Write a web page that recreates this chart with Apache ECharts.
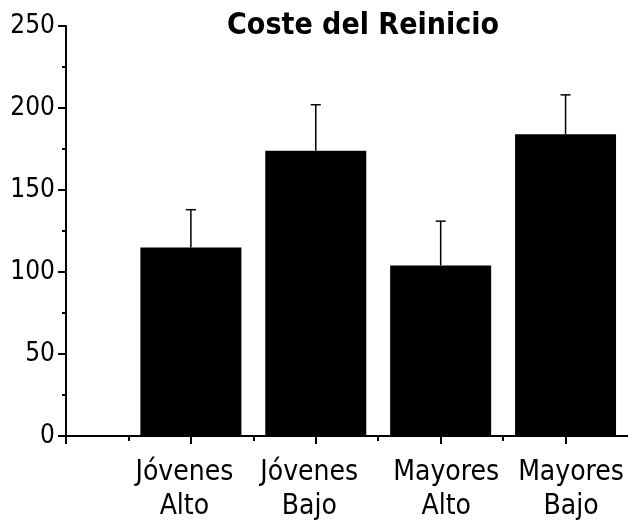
<!DOCTYPE html>
<html>
<head>
<meta charset="utf-8">
<script src="https://cdn.jsdelivr.net/npm/echarts@6/dist/echarts.min.js"></script>
<style>html,body{margin:0;padding:0;background:#fff}#c{width:628px;height:525px}</style>
</head>
<body>
<div id="c"></div>
<script>
var categories = ['Jóvenes\nAlto', 'Jóvenes\nBajo', 'Mayores\nAlto', 'Mayores\nBajo'];
var means = [115, 174, 104, 184];
var errUpper = [138, 202, 131, 208];
var yTicks = [0, 50, 100, 150, 200, 250];
var titleText = 'Coste del Reinicio';

var FONT = '"DejaVu Sans Condensed", "DejaVu Sans", sans-serif';
var labelStyleKeys = ['l', 'l', 'r', 'r'];
var chart = echarts.init(document.getElementById('c'), null, {renderer: 'canvas'});

var barData = means.map(function (v, i) { return [i + 1, v]; });
var errData = means.map(function (v, i) { return [i + 1, v, errUpper[i]]; });
var catPositions = categories.map(function (c, i) { return i + 1; });

chart.setOption({
  animation: false,
  backgroundColor: '#fff',
  title: {
    text: titleText,
    left: 358,
    textAlign: 'center',
    top: 6,
    textStyle: {fontFamily: FONT, fontSize: 30, fontWeight: 'bold', color: '#000'}
  },
  grid: {left: 66, right: 0, top: 26, bottom: 89, containLabel: false},
  xAxis: {
    type: 'value',
    min: 0,
    max: 4.5,
    interval: 1,
    splitLine: {show: false},
    axisLine: {show: true, onZero: false, lineStyle: {color: '#000', width: 2}},
    axisTick: {show: true, length: 8, customValues: [0].concat(catPositions), lineStyle: {color: '#000', width: 2}},
    minorTick: {show: true, splitNumber: 2, length: 5, lineStyle: {color: '#000', width: 2}},
    minorSplitLine: {show: false},
    axisLabel: {
      show: true,
      margin: 20,
      fontFamily: FONT,
      fontSize: 28,
      lineHeight: 34,
      color: '#000',
      customValues: catPositions,
      rich: {
        l: {fontFamily: FONT, fontSize: 28, lineHeight: 34, color: '#000', padding: [0, 13, 0, 0]},
        r: {fontFamily: FONT, fontSize: 28, lineHeight: 34, color: '#000', padding: [0, 0, 0, 11]}
      },
      formatter: function (v) {
        var i = Math.round(v) - 1;
        if (Math.abs(v - Math.round(v)) > 1e-6 || i < 0 || i >= categories.length) return '';
        var k = labelStyleKeys[i];
        return categories[i].split('\n').map(function (s) { return '{' + k + '|' + s + '}'; }).join('\n');
      }
    }
  },
  yAxis: {
    type: 'value',
    min: yTicks[0],
    max: yTicks[yTicks.length - 1],
    interval: yTicks[1] - yTicks[0],
    splitLine: {show: false},
    axisLine: {show: true, lineStyle: {color: '#000', width: 2}},
    axisTick: {show: true, length: 8, lineStyle: {color: '#000', width: 2}},
    minorTick: {show: true, splitNumber: 2, length: 4, lineStyle: {color: '#000', width: 2}},
    axisLabel: {margin: 11, fontFamily: FONT, fontSize: 26, color: '#000'}
  },
  series: [
    {
      type: 'bar',
      data: barData,
      barWidth: 101,
      itemStyle: {color: '#000'},
      z: 2
    },
    {
      type: 'custom',
      data: errData,
      z: 3,
      renderItem: function (params, api) {
        var x = api.value(0);
        var top = api.coord([x, api.value(2)]);
        var base = api.coord([x, api.value(1)]);
        var hw = 5;
        return {
          type: 'group',
          children: [
            {type: 'line', shape: {x1: top[0], y1: top[1], x2: base[0], y2: base[1]}, style: {stroke: '#000', lineWidth: 1.5}},
            {type: 'line', shape: {x1: top[0] - hw, y1: top[1], x2: top[0] + hw, y2: top[1]}, style: {stroke: '#000', lineWidth: 1.5}}
          ]
        };
      }
    }
  ]
});
</script>
</body>
</html>
